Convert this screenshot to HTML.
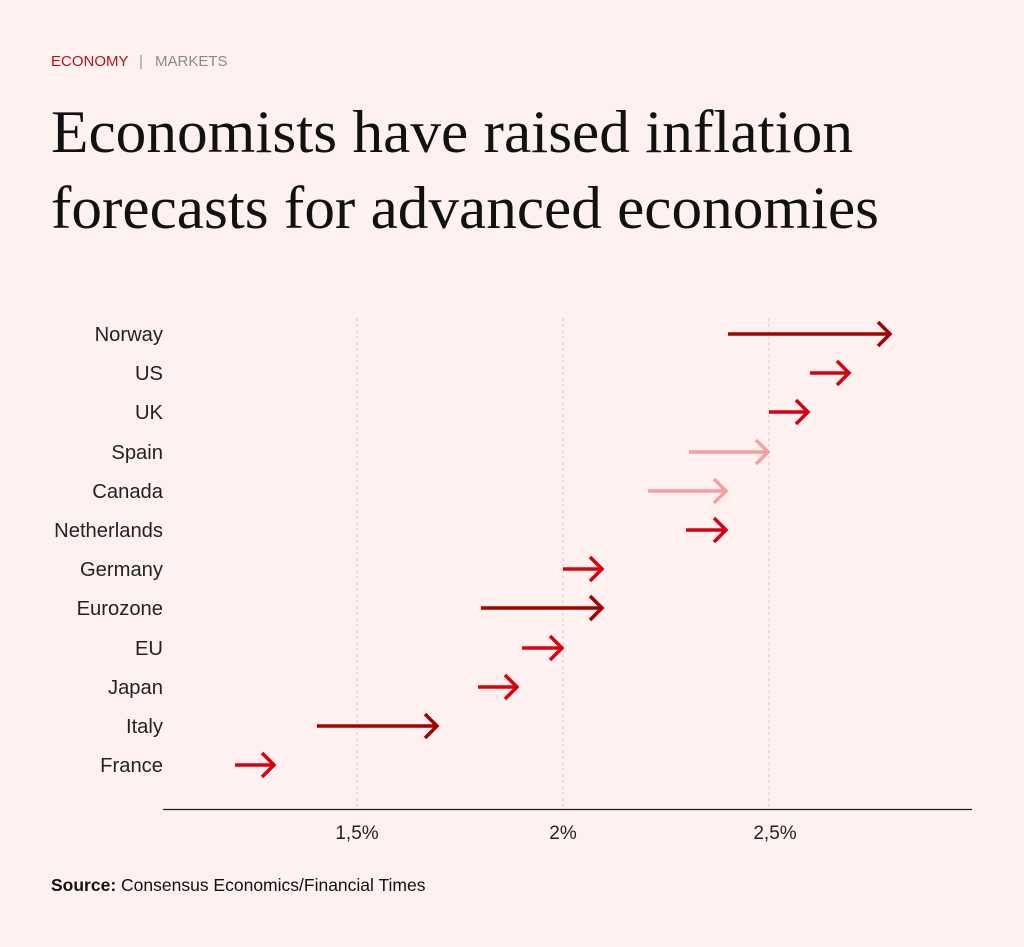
<!DOCTYPE html>
<html><head><meta charset="utf-8"><style>
body{margin:0;background:#fff1f0;}
svg{display:block}
</style></head><body>
<svg width="1024" height="947" viewBox="0 0 1024 947" xmlns="http://www.w3.org/2000/svg">
<rect width="1024" height="947" fill="#fff1f0"/>
<text x="51" y="66" font-family="Liberation Sans, sans-serif" font-size="15" fill="#b3121b">ECONOMY</text>
<text x="139" y="66" font-family="Liberation Sans, sans-serif" font-size="15" fill="#999">|</text>
<text x="155" y="66" font-family="Liberation Sans, sans-serif" font-size="15" fill="#8a8a8a">MARKETS</text>
<text x="51" y="152" font-family="Liberation Serif, serif" font-size="60" fill="#111" textLength="802" lengthAdjust="spacingAndGlyphs">Economists have raised inflation</text>
<text x="51" y="228" font-family="Liberation Serif, serif" font-size="60" fill="#111" textLength="828" lengthAdjust="spacingAndGlyphs">forecasts for advanced economies</text>
<g stroke="#d8cccc" stroke-width="1" stroke-dasharray="3,3">
<line x1="357" y1="318" x2="357" y2="808"/>
<line x1="563" y1="318" x2="563" y2="808"/>
<line x1="769" y1="318" x2="769" y2="808"/>
</g>
<line x1="163" y1="809.5" x2="972" y2="809.5" stroke="#222" stroke-width="1.2"/>
<g font-family="Liberation Sans, sans-serif" font-size="19" fill="#222" text-anchor="middle">
<text x="357" y="839">1,5%</text><text x="563" y="839">2%</text><text x="775" y="839">2,5%</text>
</g>
<g font-family="Liberation Sans, sans-serif" font-size="20.2" fill="#222" text-anchor="end">
<text x="163" y="341">Norway</text><text x="163" y="380">US</text><text x="163" y="419">UK</text>
<text x="163" y="459">Spain</text><text x="163" y="498">Canada</text><text x="163" y="537">Netherlands</text>
<text x="163" y="576">Germany</text><text x="163" y="615">Eurozone</text><text x="163" y="655">EU</text>
<text x="163" y="694">Japan</text><text x="163" y="733">Italy</text><text x="163" y="772">France</text>
</g>
<g fill="none" stroke-width="3.5">
<g stroke="#a50000"><path d="M728 334H890M878 322L890 334L878 346"/></g>
<g stroke="#d7000f"><path d="M810 373H849M837 361L849 373L837 385"/></g>
<g stroke="#d7000f"><path d="M769 412H808M796 400L808 412L796 424"/></g>
<g stroke="#f4a0a3"><path d="M689 452H768M756 440L768 452L756 464"/></g>
<g stroke="#f4a0a3"><path d="M648 491H726M714 479L726 491L714 503"/></g>
<g stroke="#d7000f"><path d="M686 530H726M714 518L726 530L714 542"/></g>
<g stroke="#d7000f"><path d="M563 569H602M590 557L602 569L590 581"/></g>
<g stroke="#a50000"><path d="M481 608H602M590 596L602 608L590 620"/></g>
<g stroke="#d7000f"><path d="M522 648H562M550 636L562 648L550 660"/></g>
<g stroke="#d7000f"><path d="M478 687H517M505 675L517 687L505 699"/></g>
<g stroke="#a50000"><path d="M317 726H437M425 714L437 726L425 738"/></g>
<g stroke="#d7000f"><path d="M235 765H274M262 753L274 765L262 777"/></g>
</g>
<text x="51" y="891" font-family="Liberation Sans, sans-serif" font-size="17.5" fill="#111"><tspan font-weight="bold">Source:</tspan> Consensus Economics/Financial Times</text>
</svg>
</body></html>
